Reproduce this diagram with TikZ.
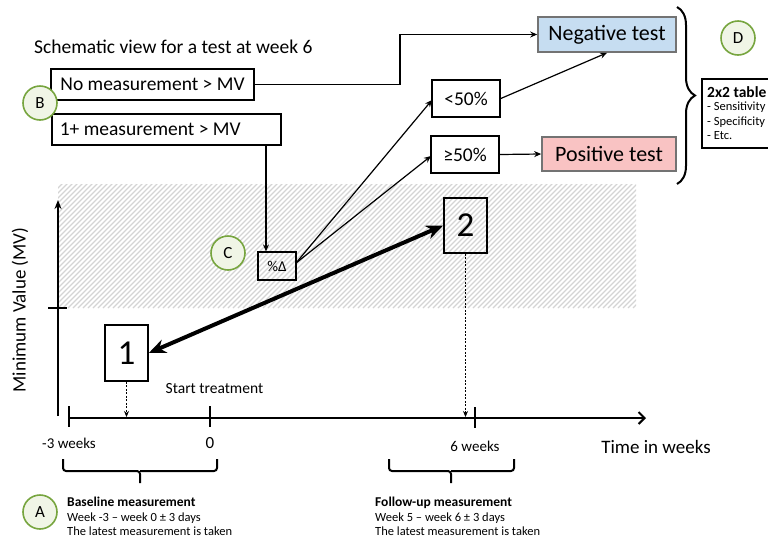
\documentclass[tikz,border=0pt]{standalone}
\usepackage{fontspec}
\setmainfont{Carlito}
\usetikzlibrary{arrows.meta,decorations.pathreplacing}
\definecolor{cgreen}{HTML}{77A53F}
\definecolor{cgfill}{HTML}{F0F5E6}
\definecolor{negfill}{HTML}{C6DDF1}
\definecolor{posfill}{HTML}{F9C3C3}
\definecolor{hatch}{HTML}{D4D4D4}
\tikzset{
  box/.style={draw, line width=1.6pt, minimum height=31pt, inner sep=0pt, font=\fontsize{19.5}{21}\selectfont},
  numbox/.style={draw, line width=1.6pt, minimum width=43pt, minimum height=56pt, inner sep=0pt, font=\fontsize{35}{37}\selectfont},
  lbl/.style={draw=cgreen, fill=cgfill, line width=1.6pt, circle, minimum size=34pt, inner sep=0pt, font=\fontsize{17}{19}\selectfont},
  arr/.style={line width=1.2pt, -{Stealth[length=7pt,width=6pt]}},
  dasharr/.style={line width=0.8pt, dashed, dash pattern=on 2pt off 1.5pt, -{Stealth[length=6pt,width=5pt]}},
  axis/.style={line width=2pt},
  brc/.style={line width=2pt, decorate},
  sqbrace/.style={line width=2pt, rounded corners=3pt},
  small/.style={font=\fontsize{12.5}{14.5}\selectfont, align=left, inner sep=0pt},
  tbitem/.style={anchor=west, inner sep=0pt, font=\fontsize{12.5}{14}\selectfont}
}
\begin{document}
\begin{tikzpicture}[x=1pt,y=-1pt]
\useasboundingbox (0,0) rectangle (768,539);
% hatched region
\begin{scope}
\clip (58,184) rectangle (636,308);
\foreach \i in {-130,-125,...,640} {
  \draw[hatch, line width=1.2pt] (58+\i,308) -- ++(130,-130);
}
\end{scope}
% title
\node[anchor=west, inner sep=0pt, font=\fontsize{19.5}{21}\selectfont] (title) at (34,47) {Schematic view for a test at week 6};
% boxes
\node[box, minimum width=203pt] (nomeas) at (152.5,84.5) {No measurement > MV};
\node[box, anchor=west, minimum width=229pt] (onemeas) at (51,129.5) {\makebox[213pt][l]{1+ measurement > MV}};
\node[box, draw=black!55, fill=negfill, minimum width=138pt, minimum height=35pt, font=\fontsize{22}{24}\selectfont] (neg) at (607,34.5) {Negative test};
\node[box, minimum width=68pt, minimum height=37pt] (lt) at (466,98.5) {<50\%};
\node[box, minimum width=68pt, minimum height=37pt] (ge) at (465,154.5) {≥50\%};
\node[box, draw=black!55, fill=posfill, minimum width=134pt, minimum height=34pt, font=\fontsize{22}{24}\selectfont] (pos) at (609,154) {Positive test};
\node[draw, line width=1.2pt, minimum width=38pt, minimum height=28pt, inner sep=0pt, font=\fontsize{15}{17}\selectfont] (pd) at (277,266) {\%Δ};
\node[draw, line width=1.6pt, anchor=north west, minimum width=72pt, minimum height=69pt, inner sep=0pt] (tbl) at (701,78) {};
\node[tbitem, font=\bfseries\fontsize{15.5}{17}\selectfont] (tbhead) at (707,92) {2x2 table};
\node[tbitem] (tb1) at (707,107.5) {- Sensitivity};
\node[tbitem] (tb2) at (707,122) {- Specificity};
\node[tbitem] (tb3) at (707,136) {- Etc.};
\node[numbox] (one) at (126.5,353) {1};
\node[numbox, minimum height=55pt] (two) at (465.5,225.5) {2};
% label circles
\node[lbl] (B) at (40,103) {B};
\node[lbl] (C) at (228,253) {C};
\node[lbl] (D) at (738,38) {D};
\node[lbl] (A) at (40,512) {A};
% connectors
\coordinate (turn1) at (400,84.5);
\draw[arr] (nomeas.east) -- (turn1) |- (neg.west);
\coordinate (d0) at (266,145.5);
\draw[arr] (d0) -- (d0 |- pd.north);
\coordinate (pdout) at (296,263);
\coordinate (ltin) at (432,100);
\coordinate (gein) at (431,156);
\draw[arr] (pdout) -- (ltin);
\draw[arr] (pdout) -- (gein);
\draw[arr] (lt.east) -- (neg.south);
\draw[arr] (ge.east) -- (pos.west);
\draw[line width=4pt, {Stealth[length=17pt,width=14pt]}-{Stealth[length=17pt,width=14pt]}] (one.east) -- (two.west);
% axes
\draw[axis, -{Stealth[length=9pt,width=7pt]}] (58,416) coordinate (yb) -- (58,200) coordinate (yt);
\draw[axis] (48,308) -- (67,308);
\draw[axis, -{Straight Barb[length=6pt,width=12pt]}] (69,418) coordinate (xl) -- (646,418) coordinate (xr);
\draw[axis] (69,406) -- (69,427);
\draw[axis] (210,406) -- (210,427);
\draw[axis] (475,407) -- (475,428);
\coordinate (t1) at (126.5,417);
\coordinate (t2) at (465.5,417);
\draw[dasharr] (one.south) -- (t1);
\draw[dasharr] (two.south) -- (t2);
% axis labels
\node[rotate=90, font=\fontsize{19}{21}\selectfont, inner sep=0pt] (ylab) at (20,310) {Minimum Value (MV)};
\node[font=\fontsize{19}{21}\selectfont, inner sep=0pt] (xlab) at (656,447) {Time in weeks};
\node[font=\fontsize{15}{17}\selectfont, inner sep=0pt] (m3) at (69,443) {-3 weeks};
\node[font=\fontsize{17}{19}\selectfont, inner sep=0pt] (z0) at (210,443) {0};
\node[font=\fontsize{15}{17}\selectfont, inner sep=0pt] (w6) at (475,446) {6 weeks};
\node[font=\fontsize{15.5}{17}\selectfont, inner sep=0pt] (st) at (214.5,389) {Start treatment};
% braces
\draw[brc, decoration={brace, amplitude=18pt}] (677,7) -- (677,184);
\draw[sqbrace] (63,459) -- (63,471) -- (140,471) -- (140,483);
\draw[sqbrace] (140,471) -- (217,471) -- (217,459);
\draw[sqbrace] (389,459) -- (389,471) -- (451,471) -- (451,483);
\draw[sqbrace] (451,471) -- (514,471) -- (514,459);
% bottom texts
\node[small, anchor=north west] (base) at (67,497) {{\bfseries\fontsize{13.5}{14.5}\selectfont Baseline measurement}\\Week -3 – week 0 ± 3 days\\The latest measurement is taken};
\node[small, anchor=north west] (foll) at (375,497) {{\bfseries\fontsize{13.5}{14.5}\selectfont Follow-up measurement}\\Week 5 – week 6 ± 3 days\\The latest measurement is taken};
\end{tikzpicture}
\end{document}
